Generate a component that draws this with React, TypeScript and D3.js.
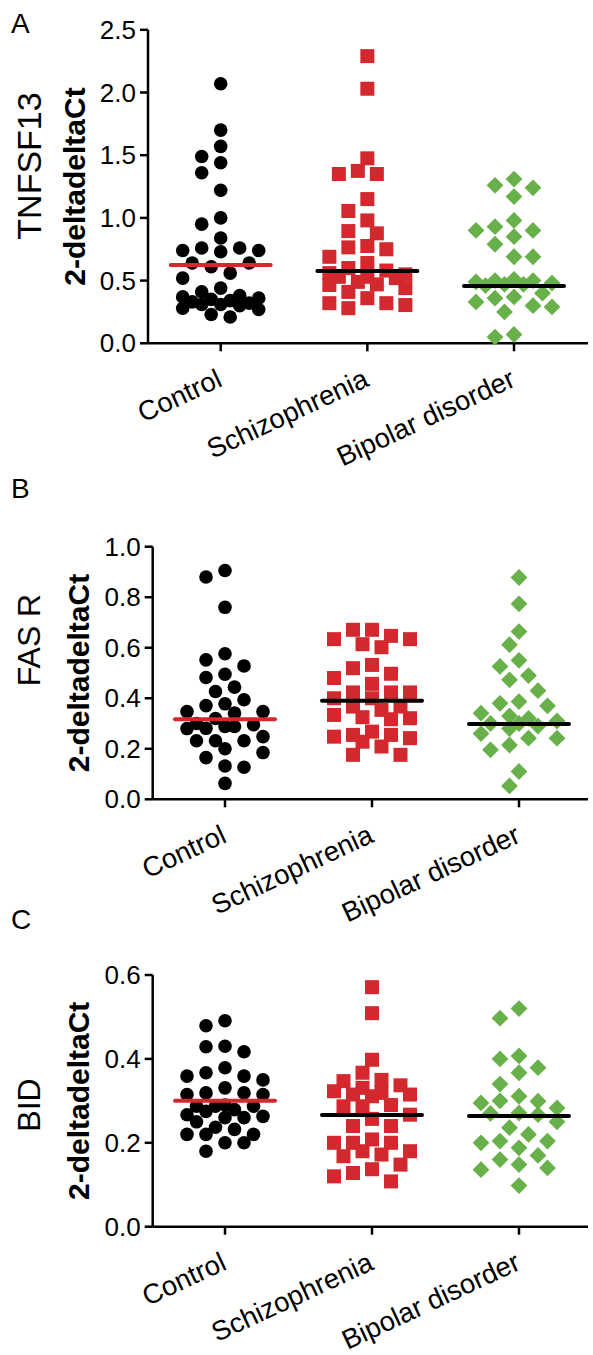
import React from "react";
import * as d3 from "d3";

// ---------- DATA ----------
const categories = ["Control", "Schizophrenia", "Bipolar disorder"];

const tnfsf13Control = [2.07, 1.70, 1.57, 1.49, 1.44, 1.36, 1.22, 1.00, 0.95, 0.84, 0.76, 0.74, 0.73, 0.74, 0.76, 0.64, 0.61, 0.64, 0.56, 0.52, 0.44, 0.41, 0.38, 0.37, 0.36, 0.35, 0.34, 0.33, 0.32, 0.31, 0.31, 0.30, 0.28, 0.27, 0.23, 0.21];
const tnfsf13Schizo = [2.29, 2.03, 1.475, 1.35, 1.35, 1.375, 1.15, 1.055, 0.98, 0.895, 0.877, 0.776, 0.75, 0.765, 0.69, 0.64, 0.60, 0.58, 0.56, 0.55, 0.53, 0.53, 0.52, 0.49, 0.47, 0.465, 0.44, 0.41, 0.36, 0.32, 0.28, 0.305, 0.32];
const tnfsf13Bipolar = [1.31, 1.24, 1.17, 1.26, 0.98, 0.90, 0.85, 0.90, 0.93, 0.79, 0.69, 0.69, 0.50, 0.48, 0.51, 0.47, 0.49, 0.46, 0.50, 0.47, 0.40, 0.37, 0.33, 0.36, 0.29, 0.25, 0.30, 0.05, 0.07];
const tnfsf13Lines = [0.625, 0.577, 0.457];
const tnfsf13Ticks = [0, 0.5, 1.0, 1.5, 2.0, 2.5];

const fasControl = [0.906, 0.88, 0.76, 0.576, 0.552, 0.528, 0.482, 0.495, 0.444, 0.427, 0.394, 0.371, 0.378, 0.347, 0.341, 0.347, 0.32, 0.288, 0.281, 0.30, 0.295, 0.28, 0.288, 0.232, 0.232, 0.248, 0.232, 0.185, 0.2, 0.165, 0.132, 0.127, 0.063];
const fasSchizo = [0.634, 0.614, 0.671, 0.671, 0.602, 0.634, 0.647, 0.532, 0.519, 0.497, 0.457, 0.48, 0.40, 0.423, 0.423, 0.423, 0.40, 0.367, 0.354, 0.367, 0.321, 0.334, 0.325, 0.317, 0.248, 0.255, 0.209, 0.255, 0.242, 0.268, 0.228, 0.176, 0.176];
const fasBipolar = [0.878, 0.774, 0.664, 0.612, 0.55, 0.526, 0.473, 0.49, 0.43, 0.387, 0.38, 0.37, 0.341, 0.33, 0.32, 0.30, 0.30, 0.31, 0.29, 0.28, 0.242, 0.242, 0.26, 0.215, 0.196, 0.11, 0.053];
const fasLines = [0.317, 0.39, 0.298];
const fasTicks = [0, 0.2, 0.4, 0.6, 0.8, 1.0];

const bidControl = [0.491, 0.479, 0.429, 0.43, 0.417, 0.379, 0.359, 0.35, 0.359, 0.367, 0.319, 0.331, 0.315, 0.319, 0.315, 0.287, 0.279, 0.29, 0.287, 0.275, 0.287, 0.26, 0.263, 0.267, 0.25, 0.26, 0.237, 0.232, 0.22, 0.22, 0.22, 0.2, 0.2, 0.18];
const bidSchizo = [0.571, 0.509, 0.398, 0.367, 0.35, 0.347, 0.315, 0.323, 0.319, 0.337, 0.315, 0.331, 0.311, 0.287, 0.287, 0.29, 0.267, 0.257, 0.24, 0.24, 0.208, 0.2, 0.2, 0.2, 0.18, 0.168, 0.172, 0.18, 0.148, 0.128, 0.108, 0.12, 0.137];
const bidBipolar = [0.52, 0.497, 0.407, 0.40, 0.379, 0.367, 0.34, 0.311, 0.295, 0.299, 0.30, 0.283, 0.271, 0.267, 0.27, 0.25, 0.236, 0.22, 0.204, 0.204, 0.20, 0.188, 0.17, 0.16, 0.148, 0.136, 0.14, 0.098];
const bidLines = [0.30, 0.266, 0.264];
const bidTicks = [0, 0.2, 0.4, 0.6];

// ---------- STYLE ----------
const RED = "#d2282e";
const GREEN = "#68b04a";
const FONT = "'Liberation Sans', Arial, Helvetica, sans-serif";

type PanelCfg = {
  letter: string;
  gene: string;
  geneSize: number;
  groups: number[][];
  lines: number[];
  ticks: number[];
  domain: [number, number];
  top: number;
  bottom: number;
  axisX: number;
  catRange: [number, number];
  letterY: number;
  geneY: number;
};

function swarm(values: number[], y: (v: number) => number, cx: number) {
  const step = 9.5;
  const maxK = 4;
  const minD = 15.5;
  const sorted = [...values].sort((a, b) => b - a);
  const placed: { x: number; y: number }[] = [];
  const order: number[] = [0];
  for (let k = 1; k <= maxK; k++) order.push(-k, k);
  for (const v of sorted) {
    const py = y(v);
    let best = 0;
    let bestD = -1;
    for (const k of order) {
      const px = cx + k * step;
      let md = Infinity;
      for (const p of placed) {
        const d = Math.hypot(p.x - px, p.y - py);
        if (d < md) md = d;
      }
      if (md >= minD) {
        best = k;
        break;
      }
      if (md > bestD + 0.5) {
        bestD = md;
        best = k;
      }
    }
    placed.push({ x: cx + best * step, y: py });
  }
  return placed;
}

function Marker({ kind, x, y }: { kind: number; x: number; y: number }) {
  if (kind === 0) return <circle cx={x} cy={y} r={6.8} fill="#000" />;
  if (kind === 1) return <rect x={x - 7} y={y - 7} width={14} height={14} fill={RED} />;
  const s = 8.4;
  return <path d={`M${x},${y - s}L${x + s},${y}L${x},${y + s}L${x - s},${y}Z`} fill={GREEN} />;
}

function Panel({ cfg }: { cfg: PanelCfg }) {
  const y = d3.scaleLinear().domain(cfg.domain).range([cfg.bottom, cfg.top]);
  const x = d3.scalePoint<string>().domain(categories).range(cfg.catRange);
  const xEnd = 588;
  const fmt = d3.format(".1f");
  const midY = (cfg.top + cfg.bottom) / 2;
  return (
    <g>
      <text x={11} y={cfg.letterY} fontSize={28} fontFamily={FONT}>{cfg.letter}</text>
      <text
        transform={`translate(29,${cfg.geneY}) rotate(-90)`}
        textAnchor="middle"
        dominantBaseline="central"
        fontSize={cfg.geneSize}
        fontFamily={FONT}
      >
        {cfg.gene}
      </text>
      <text
        transform={`translate(${cfg.axisX - 74},${midY}) rotate(-90)`}
        textAnchor="middle"
        dominantBaseline="central"
        fontSize={30}
        fontWeight="bold"
        fontFamily={FONT}
      >
        2-deltadeltaCt
      </text>
      {/* y axis */}
      <line x1={cfg.axisX} x2={cfg.axisX} y1={cfg.top} y2={cfg.bottom} stroke="#000" strokeWidth={2.5} />
      {cfg.ticks.map((t) => (
        <g key={t}>
          <line x1={cfg.axisX - 8} x2={cfg.axisX} y1={y(t)} y2={y(t)} stroke="#000" strokeWidth={2.5} />
          <text
            x={cfg.axisX - 12}
            y={y(t)}
            textAnchor="end"
            dominantBaseline="central"
            fontSize={26}
            fontFamily={FONT}
          >
            {fmt(t)}
          </text>
        </g>
      ))}
      {/* x axis */}
      <line x1={cfg.axisX} x2={xEnd} y1={cfg.bottom} y2={cfg.bottom} stroke="#000" strokeWidth={2.5} />
      {categories.map((c) => (
        <g key={c}>
          <line x1={x(c)!} x2={x(c)!} y1={cfg.bottom} y2={cfg.bottom + 8} stroke="#000" strokeWidth={2.5} />
          <text
            transform={`translate(${x(c)! + 3},${cfg.bottom + 42}) rotate(-25)`}
            textAnchor="end"
            fontSize={27.5}
            fontFamily={FONT}
          >
            {c}
          </text>
        </g>
      ))}
      {/* points */}
      {cfg.groups.map((g, gi) => {
        const pts = swarm(g, y, x(categories[gi])!);
        return (
          <g key={gi}>
            {pts.map((p, i) => (
              <Marker key={i} kind={gi} x={p.x} y={p.y} />
            ))}
          </g>
        );
      })}
      {/* center lines */}
      {cfg.lines.map((v, gi) => {
        const cx = x(categories[gi])!;
        return (
          <line
            key={gi}
            x1={cx - 50}
            x2={cx + 50}
            y1={y(v)}
            y2={y(v)}
            stroke={gi === 0 ? RED : "#000"}
            strokeWidth={4}
            strokeLinecap="round"
          />
        );
      })}
    </g>
  );
}

const panels: PanelCfg[] = [
  {
    letter: "A",
    gene: "TNFSF13",
    geneSize: 34,
    groups: [tnfsf13Control, tnfsf13Schizo, tnfsf13Bipolar],
    lines: tnfsf13Lines,
    ticks: tnfsf13Ticks,
    domain: [0, 2.5],
    top: 29.8,
    bottom: 343.3,
    axisX: 148,
    catRange: [220.7, 514],
    letterY: 33,
    geneY: 166,
  },
  {
    letter: "B",
    gene: "FAS R",
    geneSize: 32,
    groups: [fasControl, fasSchizo, fasBipolar],
    lines: fasLines,
    ticks: fasTicks,
    domain: [0, 1],
    top: 546.7,
    bottom: 799.3,
    axisX: 152.7,
    catRange: [225, 519],
    letterY: 498,
    geneY: 640,
  },
  {
    letter: "C",
    gene: "BID",
    geneSize: 32,
    groups: [bidControl, bidSchizo, bidBipolar],
    lines: bidLines,
    ticks: bidTicks,
    domain: [0, 0.6],
    top: 975,
    bottom: 1226.7,
    axisX: 152.7,
    catRange: [225, 519],
    letterY: 929,
    geneY: 1105,
  },
];

export default function App() {
  return (
    <svg
      width={593}
      height={1355}
      style={{ position: "absolute", left: 0, top: 0, background: "#fff" }}
    >
      <rect width={593} height={1355} fill="#fff" />
      {panels.map((p) => (
        <Panel key={p.letter} cfg={p} />
      ))}
    </svg>
  );
}
